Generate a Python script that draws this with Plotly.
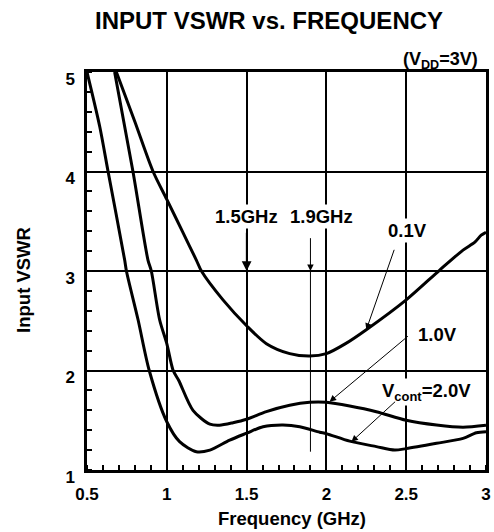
import plotly.graph_objects as go

# ---- data ----
freq_01 = [0.684, 0.80, 0.914, 1.0, 1.10, 1.185, 1.217, 1.352, 1.5, 1.624, 1.77, 1.895, 2.0, 2.12, 2.25, 2.5, 2.71, 2.856, 2.93, 2.97, 3.0]
vswr_01 = [5.0, 4.5, 4.0, 3.72, 3.39, 3.11, 3.0, 2.71, 2.45, 2.27, 2.17, 2.145, 2.17, 2.27, 2.41, 2.71, 3.01, 3.21, 3.29, 3.36, 3.39]

freq_10 = [0.673, 0.788, 0.882, 0.903, 0.955, 1.0, 1.04, 1.075, 1.164, 1.27, 1.33, 1.415, 1.5, 1.624, 1.77, 1.895, 2.0, 2.146, 2.313, 2.5, 2.69, 2.856, 3.0]
vswr_10 = [5.0, 4.0, 3.11, 3.0, 2.51, 2.27, 2.0, 1.9, 1.60, 1.46, 1.45, 1.475, 1.51, 1.586, 1.65, 1.68, 1.68, 1.643, 1.586, 1.50, 1.452, 1.43, 1.45]

freq_20 = [0.5, 0.58, 0.632, 0.736, 0.747, 0.82, 0.89, 1.0, 1.08, 1.185, 1.27, 1.394, 1.5, 1.603, 1.728, 1.833, 1.958, 2.0, 2.146, 2.313, 2.428, 2.5, 2.69, 2.856, 2.94, 3.0]
vswr_20 = [5.0, 4.45, 4.0, 3.11, 3.0, 2.51, 2.0, 1.485, 1.285, 1.184, 1.20, 1.30, 1.37, 1.435, 1.452, 1.435, 1.38, 1.365, 1.29, 1.235, 1.20, 1.215, 1.268, 1.318, 1.375, 1.385]

x_ticks = [0.5, 1, 1.5, 2, 2.5, 3]
x_ticktext = ["0.5", "1", "1.5", "2", "2.5", "3"]
y_ticks = [1, 2, 3, 4, 5]
y_ticktext = ["1", "2", "3", "4", "5"]

FONT = "Liberation Sans, Arial, sans-serif"

fig = go.Figure()
for fx, vy in [(freq_01, vswr_01), (freq_10, vswr_10), (freq_20, vswr_20)]:
    fig.add_trace(go.Scatter(x=fx, y=vy, mode="lines",
                             line=dict(color="black", width=3, shape="spline", smoothing=0.8),
                             showlegend=False, hoverinfo="skip"))

# thin marker line at 1.9 GHz
fig.add_shape(type="line", x0=1.9, x1=1.9, y0=3.0, y1=1.184, xref="x", yref="y",
              line=dict(color="black", width=1))

ann_font = dict(family=FONT, size=18.5, color="black", weight="bold")

def label(text, x, y):
    fig.add_annotation(x=x, y=y, xref="x", yref="y", text=text, showarrow=False,
                       xanchor="center", yanchor="middle",
                       font=ann_font, bgcolor="white", borderpad=1)

def arrow(x, y, ax, ay, width=1):
    fig.add_annotation(x=x, y=y, ax=ax, ay=ay, xref="x", yref="y", axref="x", ayref="y",
                       text="", showarrow=True, arrowhead=2, arrowsize=1.3,
                       arrowwidth=width, arrowcolor="black", standoff=0, startstandoff=0)

label("1.5GHz", 1.5, 3.546)
arrow(1.5, 3.0, 1.5, 3.40, width=1.5)
label("1.9GHz", 1.969, 3.546)
arrow(1.9, 3.0, 1.9, 3.345)
label("0.1V", 2.509, 3.405)
arrow(2.25, 2.41, 2.428, 3.228)
label("1.0V", 2.697, 2.357)
arrow(2.02, 1.686, 2.52, 2.357)
label("V<sub>cont</sub>=2.0V", 2.625, 1.78)
arrow(2.157, 1.284, 2.44, 1.70)

# title and subtitle
fig.add_annotation(x=0.456, y=1.0 + 51.3 / 398, xref="paper", yref="paper",
                   xanchor="center", yanchor="middle",
                   text="INPUT VSWR vs. FREQUENCY", showarrow=False,
                   font=dict(family=FONT, size=24, color="black", weight="bold"))
fig.add_annotation(x=0.985, y=1.0 + 12 / 398, xref="paper", yref="paper",
                   xanchor="right", yanchor="middle",
                   text="(V<sub>DD</sub>=3V)", showarrow=False,
                   font=dict(family=FONT, size=18, color="black", weight="bold"))
# axis titles
fig.add_annotation(x=-0.161, y=0.477, xref="paper", yref="paper", textangle=-90,
                   xanchor="center", yanchor="middle",
                   text="Input VSWR", showarrow=False,
                   font=dict(family=FONT, size=18.5, color="black", weight="bold"))
fig.add_annotation(x=0.513, y=-48 / 398, xref="paper", yref="paper",
                   xanchor="center", yanchor="middle",
                   text="Frequency (GHz)", showarrow=False,
                   font=dict(family=FONT, size=18.5, color="black", weight="bold"))

tick_font = dict(family=FONT, size=17, color="black", weight="bold")
fig.update_xaxes(range=[0.5, 3], tickvals=x_ticks, ticktext=x_ticktext, tickfont=tick_font,
                 showgrid=True, gridcolor="black", gridwidth=2, zeroline=False,
                 showline=True, linecolor="black", linewidth=2.5, mirror=True,
                 ticks="", ticklabelstandoff=7, automargin=False,
                 minor=dict(dtick=0.1, tick0=0.5, ticks="inside", ticklen=5, tickwidth=1.5,
                            tickcolor="black", showgrid=False))
fig.update_yaxes(range=[1, 5], tickvals=y_ticks, ticktext=y_ticktext, tickfont=tick_font,
                 showgrid=True, gridcolor="black", gridwidth=2, zeroline=False,
                 showline=True, linecolor="black", linewidth=2.5, mirror=True,
                 ticks="", ticklabelstandoff=6, ticklabelshift=7, automargin=False,
                 minor=dict(dtick=0.2, tick0=1, ticks="inside", ticklen=5, tickwidth=1.5,
                            tickcolor="black", showgrid=False))

fig.update_layout(width=494, height=532, plot_bgcolor="white", paper_bgcolor="white",
                  margin=dict(l=87, r=8, t=72, b=62), showlegend=False)

fig.write_html("out.html", config={"displayModeBar": False},
               post_script="document.body.style.margin='0px';")
